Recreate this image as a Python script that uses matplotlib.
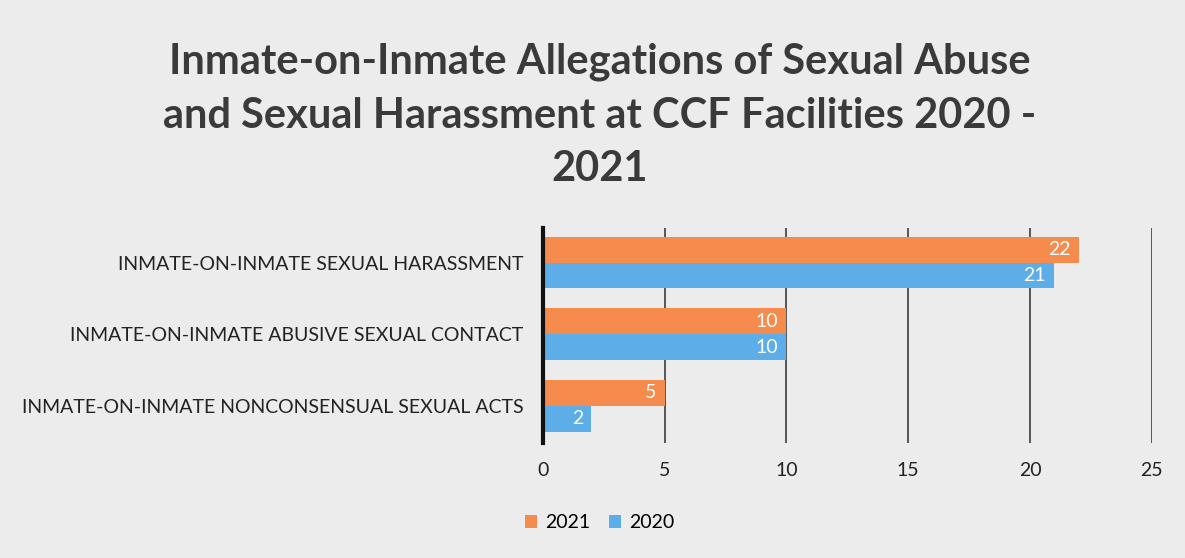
import matplotlib.pyplot as plt
import numpy as np

plt.rcParams['font.family'] = ['Lato', 'DejaVu Sans']

categories = ["INMATE-ON-INMATE NONCONSENSUAL SEXUAL ACTS",
              "INMATE-ON-INMATE ABUSIVE SEXUAL CONTACT",
              "INMATE-ON-INMATE SEXUAL HARASSMENT"]
vals_2021 = [5, 10, 22]
vals_2020 = [2, 10, 21]
xticks = [0, 5, 10, 15, 20, 25]

orange = "#F58B4C"
blue = "#5CADE8"
bg = "#ECECEC"

fig = plt.figure(figsize=(11.85, 5.58), dpi=100, facecolor=bg)
ax = fig.add_axes([0.458, 0.206, 0.514, 0.385])
ax.set_facecolor(bg)

y = np.arange(len(categories))
h = 0.36
b1 = ax.barh(y + h / 2, vals_2021, height=h, color=orange, label="2021", zorder=3)
b2 = ax.barh(y - h / 2, vals_2020, height=h, color=blue, label="2020", zorder=3)

for bars in (b1, b2):
    for bar in bars:
        w = bar.get_width()
        ax.text(w - 0.35, bar.get_y() + bar.get_height() / 2, f"{w:g}",
                ha="right", va="center", color="white", fontsize=14, zorder=4)

ax.set_xlim(0, 25)
ax.set_ylim(-0.52, 2.48)
ax.set_xticks(xticks)
ax.xaxis.grid(True, color="#4a4a4a", linewidth=1.3, zorder=0)
ax.set_yticks(y)
ax.set_yticklabels(categories, fontsize=14, color="#222222")
ax.tick_params(axis="both", length=0)
ax.tick_params(axis="y", pad=14)
ax.tick_params(axis="x", pad=14, labelsize=14, labelcolor="#222222")
for s in ("top", "right", "bottom"):
    ax.spines[s].set_visible(False)
ax.spines["left"].set_color("#111111")
ax.spines["left"].set_linewidth(3)
ax.spines["left"].set_zorder(5)

fig.text(0.506, 0.663, "Inmate-on-Inmate Allegations of Sexual Abuse\n"
         "and Sexual Harassment at CCF Facilities 2020 -\n2021",
         ha="center", va="bottom", fontsize=30, fontweight="bold",
         color="#3a3a3a", linespacing=1.5)

fig.legend(handles=[b1, b2], labels=["2021", "2020"], loc="center",
           bbox_to_anchor=(0.506, 0.063), ncol=2, frameon=False,
           fontsize=14, handlelength=0.6, handleheight=0.6,
           handletextpad=0.4, columnspacing=1.0)

fig.savefig("out.png", dpi=100, facecolor=bg)
